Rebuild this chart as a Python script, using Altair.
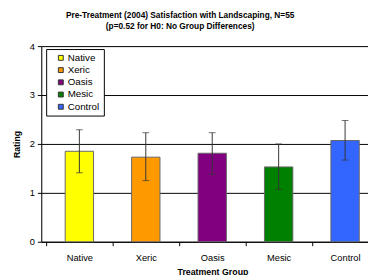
import altair as alt
import pandas as pd

groups = ["Native", "Xeric", "Oasis", "Mesic", "Control"]
means = [1.85, 1.73, 1.81, 1.53, 2.07]
err_lo = [1.41, 1.25, 1.38, 1.07, 1.67]
err_hi = [2.29, 2.23, 2.23, 2.00, 2.48]
colors = ["#FFFF00", "#FF9900", "#800080", "#008000", "#3366FF"]
y_ticks = [0, 1, 2, 3, 4]

pos = [i + 0.5 for i in range(len(groups))]
bounds = list(range(len(groups)))
df = pd.DataFrame({"group": groups, "pos": pos, "mean": means, "lo": err_lo, "hi": err_hi})

FONT = "Liberation Sans"
# plot is 334 px wide showing 334/70 categories (the reference cuts off the right edge)
XMAX = 334 / 70
xscale = alt.Scale(domain=[0, XMAX], nice=False, zero=False)
yscale = alt.Scale(domain=[0, 4], nice=False)
names_js = "[" + ",".join("'%s'" % g for g in groups) + "]"

y = alt.Y("mean:Q", title="Rating", scale=yscale,
          axis=alt.Axis(values=y_ticks, grid=True, gridColor="#000000", gridWidth=1,
                        domainColor="#000000", tickColor="#000000", tickSize=4,
                        labelFontSize=9.5, labelFont=FONT, labelColor="#000000", labelPadding=3,
                        titleFont=FONT, titleFontSize=9, titleFontWeight="bold",
                        titleColor="#000000", titlePadding=8))

bars = alt.Chart(df).mark_bar(size=29, stroke="#666666", strokeWidth=1).encode(
    x=alt.X("pos:Q", scale=xscale, title="Treatment Group",
            axis=alt.Axis(orient="bottom", values=pos,
                          labelExpr=names_js + "[floor(datum.value)]",
                          ticks=False, domain=False, grid=False, labelFontSize=9.5,
                          labelFont=FONT, labelColor="#000000", labelPadding=11,
                          labelFlush=False, labelOverlap=False,
                          titleFont=FONT, titleFontSize=9, titleFontWeight="bold",
                          titleColor="#000000", titlePadding=6, titleX=175)),
    y=y,
    color=alt.Color("group:N", sort=groups,
                    scale=alt.Scale(domain=groups, range=colors),
                    legend=alt.Legend(title=None, orient="none", legendX=5, legendY=3,
                                      symbolType="square", symbolSize=25,
                                      symbolStrokeColor="#333333", symbolStrokeWidth=1,
                                      labelFont=FONT, labelFontSize=10, labelColor="#000000",
                                      fillColor="#FFFFFF", strokeColor="#000000",
                                      padding=4, rowPadding=2.5, labelOffset=2,
                                      symbolOffset=6)),
)

bdf = pd.DataFrame({"b": bounds, "zero": [0] * len(bounds)})
boundary_axis = alt.Chart(bdf).mark_point(opacity=0).encode(
    x=alt.X("b:Q", scale=xscale, title=None,
            axis=alt.Axis(orient="bottom", values=bounds, labels=False, ticks=True,
                          tickSize=4, tickColor="#000000", domainColor="#000000",
                          grid=False, title=None)),
    y=alt.Y("zero:Q", scale=yscale),
)

rules = alt.Chart(df).mark_rule(color="#333333", strokeWidth=1).encode(
    x=alt.X("pos:Q", scale=xscale, axis=None),
    y=alt.Y("lo:Q", scale=yscale), y2="hi:Q")
caps_hi = alt.Chart(df).mark_tick(color="#333333", size=7, thickness=1, orient="horizontal").encode(
    x=alt.X("pos:Q", scale=xscale, axis=None), y=alt.Y("hi:Q", scale=yscale))
caps_lo = alt.Chart(df).mark_tick(color="#333333", size=7, thickness=1, orient="horizontal").encode(
    x=alt.X("pos:Q", scale=xscale, axis=None), y=alt.Y("lo:Q", scale=yscale))

chart = alt.layer(bars, boundary_axis, rules, caps_hi, caps_lo).resolve_axis(
    x="independent"
).properties(
    width=334, height=200,
    autosize=alt.AutoSizeParams(type="none"),
    padding={"left": 34, "top": 36, "right": 0, "bottom": 31},
    title=alt.TitleParams(
        text=["Pre-Treatment (2004) Satisfaction with Landscaping, N=55",
              "(p=0.52 for H0: No Group Differences)"],
        font=FONT, fontSize=8.5, fontWeight="bold", color="#000000",
        anchor="middle", frame="group", dx=-25, offset=11, lineHeight=11),
).configure_view(stroke=None).configure(background="#FFFFFF")

chart.save("out.html", embed_options={"renderer": "svg", "actions": False})
